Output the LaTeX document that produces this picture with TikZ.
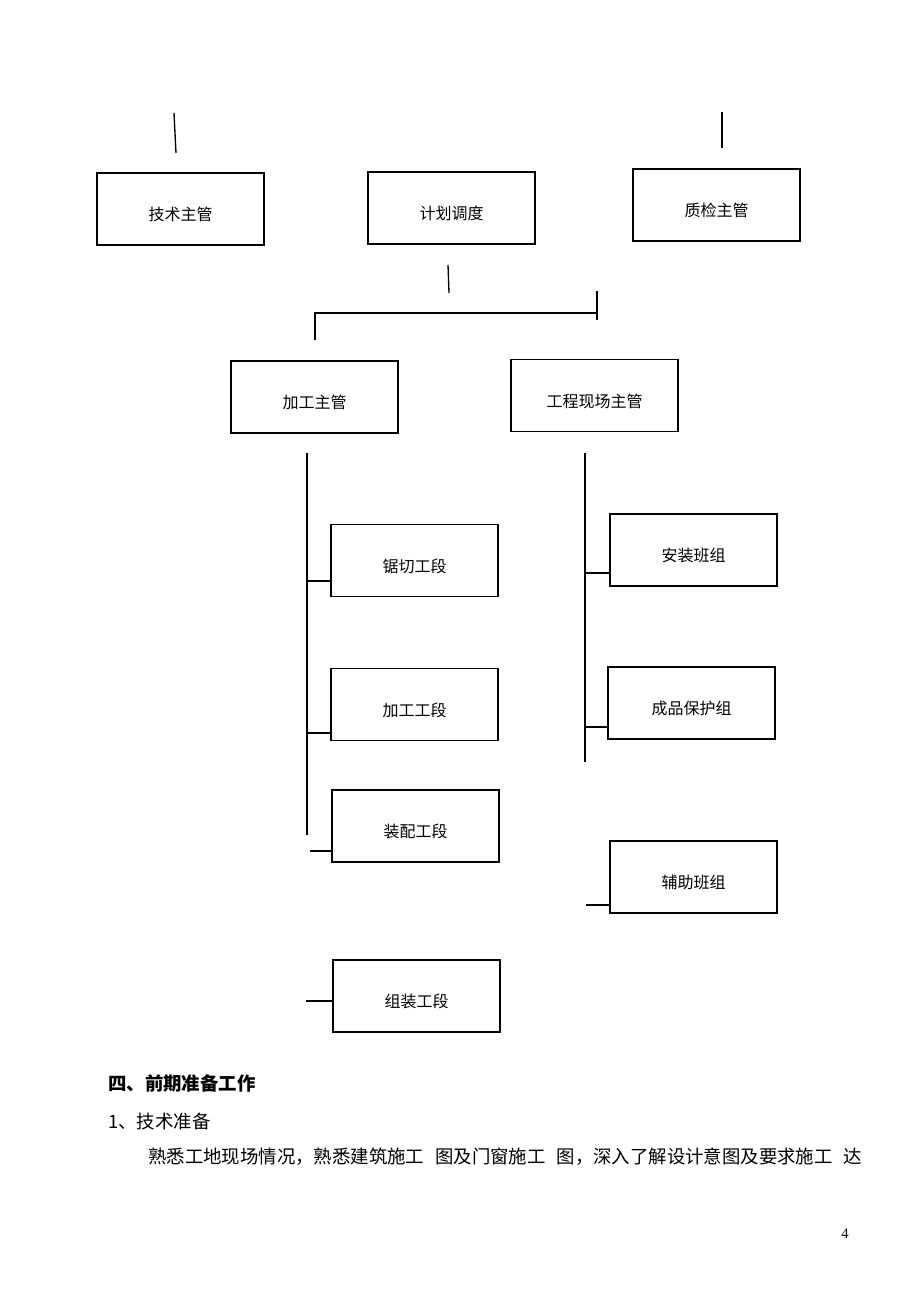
\documentclass[tikz,border=0pt]{standalone}
\usepackage{fontspec}
\setmainfont{Liberation Serif}
\newfontfamily\cjk{Noto Sans CJK SC}
\usetikzlibrary{positioning}

\tikzset{
  unit/.style={draw, line width=1.1pt, minimum width=125.25pt, minimum height=54pt,
    inner sep=0pt, text height=17.5pt, text depth=0pt, font=\cjk\fontsize{12}{14}\selectfont},
  link/.style={line width=1pt},
  para/.style={anchor=west, inner sep=0pt, font=\cjk\fontsize{13.8}{16}\selectfont}
}
\newcommand{\gapsp}{\hspace{0.6em}}

\begin{document}
\begin{tikzpicture}[x=0.75pt, y=-0.75pt]
\fill[white] (0,0) rectangle (920,1302);
\useasboundingbox (0,0) rectangle (920,1302);

% top row
\node[unit] (jishu)   at (180.5,209) {技术主管};
\node[unit] (jihua)   at (451.5,208) {计划调度};
\node[unit] (zhijian) at (716.5,205) {质检主管};

% second row
\node[unit] (jiagong)   at (314.5,397)   {加工主管};
\node[unit] (xianchang) at (594.5,395.5) {工程现场主管};

% workshop sections
\node[unit] (juqie)     at (414.5,560.5) {锯切工段};
\node[unit] (jgduan)    at (414.5,704.5) {加工工段};
\node[unit] (zhuangpei) at (415.5,826)   {装配工段};
\node[unit] (zuzhuang)  at (416.5,996)   {组装工段};

% site teams
\node[unit] (anzhuang) at (693.5,550) {安装班组};
\node[unit] (baohu)    at (691.5,703) {成品保护组};
\node[unit] (fuzhu)    at (693.5,877) {辅助班组};

% loose stubs and bars
\coordinate (ja) at (174,113); \coordinate (jb) at (176,153);
\coordinate (za) at (722,112); \coordinate (zb) at (722,148);
\coordinate (ha) at (448,265); \coordinate (hb) at (449,293);
\coordinate (bl) at (315,340); \coordinate (br) at (597,313);
\coordinate (ta) at (597,291); \coordinate (tb) at (597,320);
\draw[link] (ja) -- (jb);
\draw[link] (za) -- (zb);
\draw[link] (ha) -- (hb);
\draw[link] (bl) |- (br);
\draw[link] (ta) -- (tb);

% left spine
\coordinate (ltop) at (307,453); \coordinate (lbot) at (307,835);
\draw[link] (ltop) -- (lbot);
\coordinate (l1) at (307,581);
\coordinate (l2) at (307,733);
\coordinate (l3) at (310,851);
\coordinate (l4) at (306,1001);
\draw[link] (l1) -- (l1 -| juqie.west);
\draw[link] (l2) -- (l2 -| jgduan.west);
\draw[link] (l3) -- (l3 -| zhuangpei.west);
\draw[link] (l4) -- (l4 -| zuzhuang.west);

% right spine
\coordinate (rtop) at (585,453); \coordinate (rbot) at (585,762);
\draw[link] (rtop) -- (rbot);
\coordinate (r1) at (585,573);
\coordinate (r2) at (585,727);
\coordinate (r3) at (586,905);
\draw[link] (r1) -- (r1 -| anzhuang.west);
\draw[link] (r2) -- (r2 -| baohu.west);
\draw[link] (r3) -- (r3 -| fuzhu.west);

% text below
\node[para, font=\cjk\bfseries\fontsize{13.8}{16}\selectfont] (title) at (108,1083) {四、前期准备工作};
\node[para] (sub) at (108,1121) {1、技术准备};
\node[para] (body) at (148,1157) {熟悉工地现场情况，熟悉建筑施工\gapsp 图及门窗施工\gapsp 图，深入了解设计意图及要求施工\gapsp 达};
\node[inner sep=0pt, font=\fontsize{11}{13}\selectfont] (pageno) at (845,1234) {4};
\end{tikzpicture}
\end{document}
